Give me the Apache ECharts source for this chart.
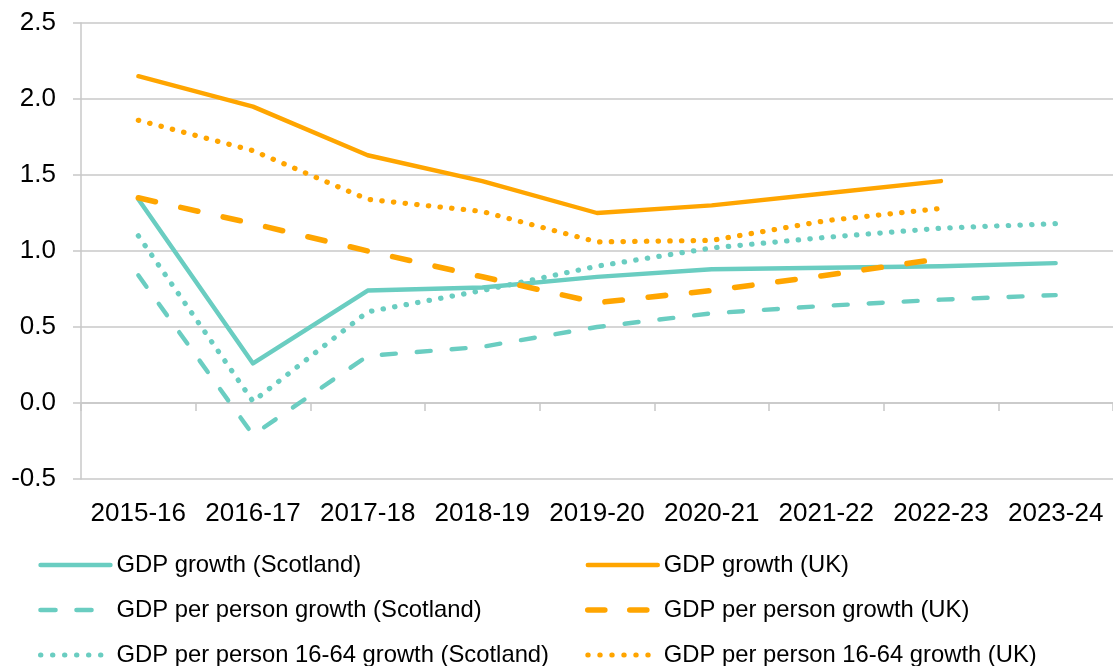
<!DOCTYPE html>
<html>
<head>
<meta charset="utf-8">
<script src="https://cdn.jsdelivr.net/npm/echarts@6/dist/echarts.min.js"></script>
<style>
html,body{margin:0;padding:0;background:#fff;}
#chart{width:1113px;height:666px;}
</style>
</head>
<body>
<div id="chart"></div>
<script>
const categories = ['2015-16','2016-17','2017-18','2018-19','2019-20','2020-21','2021-22','2022-23','2023-24'];
const yTicks = [-0.5, 0.0, 0.5, 1.0, 1.5, 2.0, 2.5];
const gdpScotland = [1.34, 0.26, 0.74, 0.76, 0.83, 0.88, 0.89, 0.90, 0.92];
const gdpUK = [2.15, 1.95, 1.63, 1.46, 1.25, 1.30, 1.38, 1.46, null];
const gdpPerPersonScotland = [0.84, -0.21, 0.31, 0.37, 0.50, 0.59, 0.64, 0.68, 0.71];
const gdpPerPersonUK = [1.35, 1.18, 1.00, 0.83, 0.66, 0.74, 0.84, 0.95, null];
const gdpPerPerson1664Scotland = [1.10, 0.01, 0.60, 0.74, 0.90, 1.02, 1.09, 1.15, 1.18];
const gdpPerPerson1664UK = [1.86, 1.66, 1.34, 1.26, 1.06, 1.07, 1.20, 1.28, null];

const TEAL = '#6ACDC1';
const ORANGE = '#FFA500';
const FONT = 'Liberation Sans, Arial, sans-serif';

const names = [
  'GDP growth (Scotland)',
  'GDP per person growth (Scotland)',
  'GDP per person 16-64 growth (Scotland)',
  'GDP growth (UK)',
  'GDP per person growth (UK)',
  'GDP per person 16-64 growth (UK)'
];

const styles = {
  'GDP growth (Scotland)': {color: TEAL, width: 4.4, type: 'solid'},
  'GDP per person growth (Scotland)': {color: TEAL, width: 4.4, type: [14, 21]},
  'GDP per person 16-64 growth (Scotland)': {color: TEAL, width: 5.2, type: [0.4, 11.3]},
  'GDP growth (UK)': {color: ORANGE, width: 4.4, type: 'solid'},
  'GDP per person growth (UK)': {color: ORANGE, width: 5.6, type: [17.5, 26]},
  'GDP per person 16-64 growth (UK)': {color: ORANGE, width: 5.2, type: [0.4, 11.3]}
};
const dataMap = {
  'GDP growth (Scotland)': gdpScotland,
  'GDP per person growth (Scotland)': gdpPerPersonScotland,
  'GDP per person 16-64 growth (Scotland)': gdpPerPerson1664Scotland,
  'GDP growth (UK)': gdpUK,
  'GDP per person growth (UK)': gdpPerPersonUK,
  'GDP per person 16-64 growth (UK)': gdpPerPerson1664UK
};

const series = names.map(n => ({
  name: n,
  type: 'line',
  data: dataMap[n],
  symbol: 'none',
  showSymbol: false,
  silent: true,
  animation: false,
  lineStyle: {color: styles[n].color, width: styles[n].width, type: styles[n].type, cap: 'round', join: 'round'},
  itemStyle: {color: styles[n].color}
}));

const legendIconStyle = {
  'GDP growth (Scotland)': {width: 4.4, type: 'solid'},
  'GDP per person growth (Scotland)': {width: 4.6, type: [15, 21]},
  'GDP per person 16-64 growth (Scotland)': {width: 5, type: [0.4, 11.6]},
  'GDP growth (UK)': {width: 4.4, type: 'solid'},
  'GDP per person growth (UK)': {width: 5.6, type: [17, 25]},
  'GDP per person 16-64 growth (UK)': {width: 5, type: [0.4, 11.6]}
};

function legendFor(list, left) {
  return {
    orient: 'vertical',
    left: left,
    top: 553,
    padding: 0,
    width: 520,
    height: 130,
    itemWidth: 70,
    itemHeight: 24,
    itemGap: 21,
    selectedMode: false,
    textStyle: {fontFamily: FONT, fontSize: 23.8, color: '#000', padding: [0, 0, 0, 1]},
    data: list.map(n => ({
      name: n,
      itemStyle: {opacity: 0},
      lineStyle: {color: styles[n].color, width: legendIconStyle[n].width, type: legendIconStyle[n].type, cap: 'round', opacity: 1}
    }))
  };
}

const chart = echarts.init(document.getElementById('chart'), null, {renderer: 'canvas'});
chart.setOption({
  animation: false,
  backgroundColor: '#fff',
  grid: {left: 81, top: 23, width: 1040, height: 456, containLabel: false},
  legend: [legendFor(names.slice(0, 3), 38), legendFor(names.slice(3), 585)],
  xAxis: [{
    type: 'category',
    data: categories,
    boundaryGap: true,
    axisLine: {onZero: true, lineStyle: {color: '#c8c8c8', width: 1.5}},
    axisTick: {show: true, length: 8, lineStyle: {color: '#c8c8c8', width: 1.5}},
    axisLabel: {show: false},
    splitLine: {show: false}
  }, {
    type: 'category',
    data: categories,
    position: 'bottom',
    boundaryGap: true,
    axisLine: {show: false, onZero: false},
    axisTick: {show: false},
    axisLabel: {show: true, margin: 22, fontFamily: FONT, fontSize: 26, color: '#000', interval: 0},
    splitLine: {show: false}
  }],
  yAxis: {
    type: 'value',
    min: yTicks[0],
    max: yTicks[yTicks.length - 1],
    interval: 0.5,
    axisLine: {show: true, lineStyle: {color: '#c8c8c8', width: 1.5}},
    axisTick: {show: true, length: 8, lineStyle: {color: '#c8c8c8', width: 1.5}},
    axisLabel: {margin: 25, fontFamily: FONT, fontSize: 26, color: '#000', formatter: v => v.toFixed(1)},
    splitLine: {show: true, lineStyle: {color: '#c8c8c8', width: 1.5}}
  },
  series: series
});
</script>
</body>
</html>
